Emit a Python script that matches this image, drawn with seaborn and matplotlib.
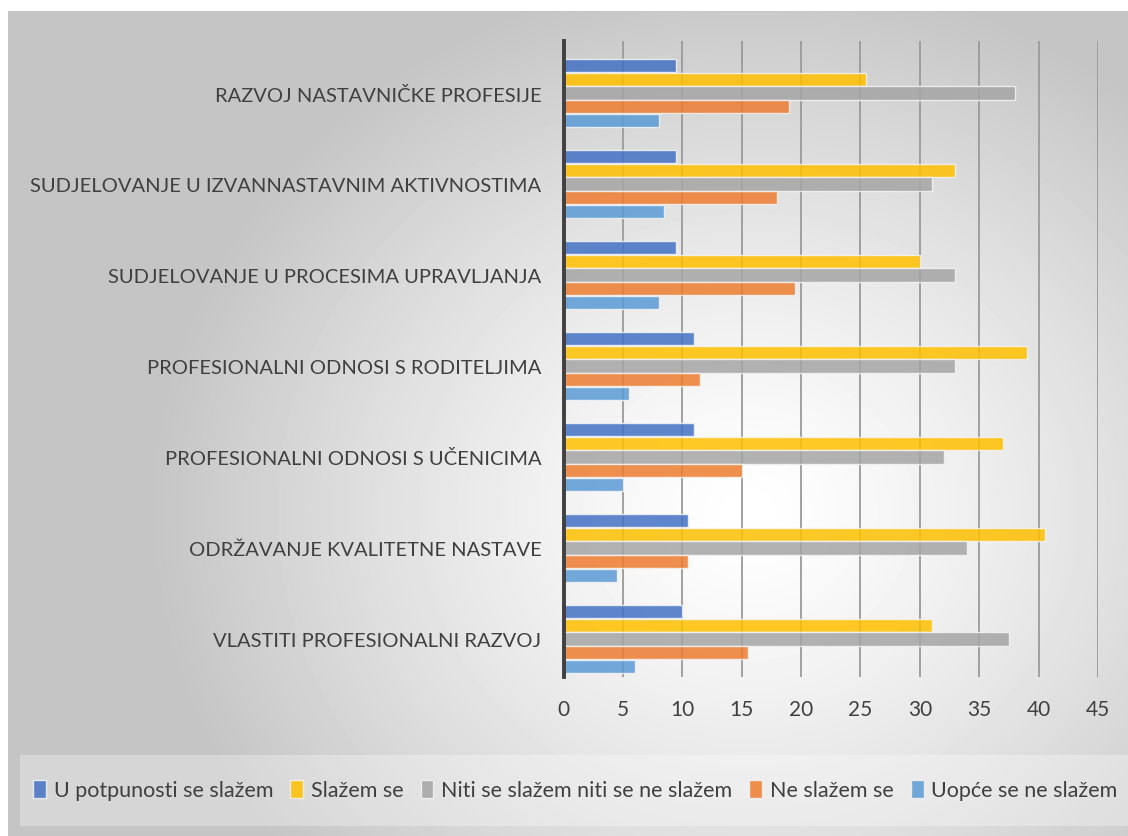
import numpy as np
import pandas as pd
import matplotlib
matplotlib.use("Agg")
import matplotlib.pyplot as plt
import seaborn as sns
from matplotlib.patches import Rectangle

# Data (top to bottom)
categories = [
    "RAZVOJ NASTAVNIČKE PROFESIJE",
    "SUDJELOVANJE U IZVANNASTAVNIM AKTIVNOSTIMA",
    "SUDJELOVANJE U PROCESIMA UPRAVLJANJA",
    "PROFESIONALNI ODNOSI S RODITELJIMA",
    "PROFESIONALNI ODNOSI S UČENICIMA",
    "ODRŽAVANJE KVALITETNE NASTAVE",
    "VLASTITI PROFESIONALNI RAZVOJ",
]
series = ["U potpunosti se slažem", "Slažem se", "Niti se slažem niti se ne slažem",
          "Ne slažem se", "Uopće se ne slažem"]
u_potpunosti = [9.5, 9.5, 9.5, 11, 11, 10.5, 10]
slazem = [25.5, 33, 30, 39, 37, 40.5, 31]
niti = [38, 31, 33, 33, 32, 34, 37.5]
ne_slazem = [19, 18, 19.5, 11.5, 15, 10.5, 15.5]
uopce = [8, 8.5, 8, 5.5, 5, 4.5, 6]
colors = ["#4472C4", "#FFC000", "#A5A5A5", "#ED7D31", "#5B9BD5"]

rows = []
for s, vals in zip(series, [u_potpunosti, slazem, niti, ne_slazem, uopce]):
    for c, v in zip(categories, vals):
        rows.append({"category": c, "series": s, "value": v})
df = pd.DataFrame(rows)

sns.set_style("white")
plt.rcParams["font.family"] = ["Lato", "DejaVu Sans"]
text_color = "#404040"

fig = plt.figure(figsize=(11.28, 8.37), dpi=100)
W, H = 1128, 837

# radial grey gradient background
bg = fig.add_axes([8 / W, 0, 1 - 8 / W, 1 - 12 / H], zorder=-10)
yy, xx = np.mgrid[0:825, 0:1120]
d = np.sqrt(((xx - 740) / 620.0) ** 2 + ((yy - 500) / 560.0) ** 2)
shade = np.clip(1.0 - 0.24 * d ** 1.3, 0.77, 1.0)
bg.imshow(shade, cmap="gray", vmin=0, vmax=1, aspect="auto", interpolation="bilinear")
bg.axis("off")

# legend band
fig.patches.append(Rectangle((20 / W, (H - 827) / H), 1 - 20 / W, 71 / H,
                             transform=fig.transFigure, facecolor="white",
                             alpha=0.3, edgecolor="none", zorder=-5))

ax = fig.add_axes([563.5 / W, (H - 678) / H, (1098 - 563.5) / W, (678 - 42) / H])
ax.patch.set_alpha(0)

sns.barplot(data=df, y="category", x="value", hue="series", orient="h",
            palette=colors, saturation=1, width=0.76, gap=0.04, alpha=0.85,
            edgecolor="#F4F4F4", linewidth=1.0, ax=ax)

ax.set_xlim(0, 45)
ax.set_ylim(6 + 38 / 91, -52 / 91)
ax.set_xticks(range(0, 46, 5))
ax.grid(axis="x", color="#9A9A9A", linewidth=1.3)
ax.set_axisbelow(True)
for side in ["top", "right", "bottom"]:
    ax.spines[side].set_visible(False)
ax.spines["left"].set_color("#404040")
ax.spines["left"].set_linewidth(2.8)
ax.set_xlabel("")
ax.set_ylabel("")
ax.tick_params(axis="y", length=0, pad=16, labelsize=14.5, labelcolor=text_color)
ax.tick_params(axis="x", length=0, pad=16, labelsize=15, labelcolor=text_color)

handles, labels = ax.get_legend_handles_labels()
ax.legend_.remove()
fig.legend(handles, labels, loc="center", bbox_to_anchor=(0.51, (H - 791) / H),
           ncol=5, frameon=False, fontsize=15.5, handlelength=0.6, handleheight=0.9,
           handletextpad=0.35, columnspacing=0.8, labelcolor=text_color)

fig.savefig("out.png", dpi=100)
